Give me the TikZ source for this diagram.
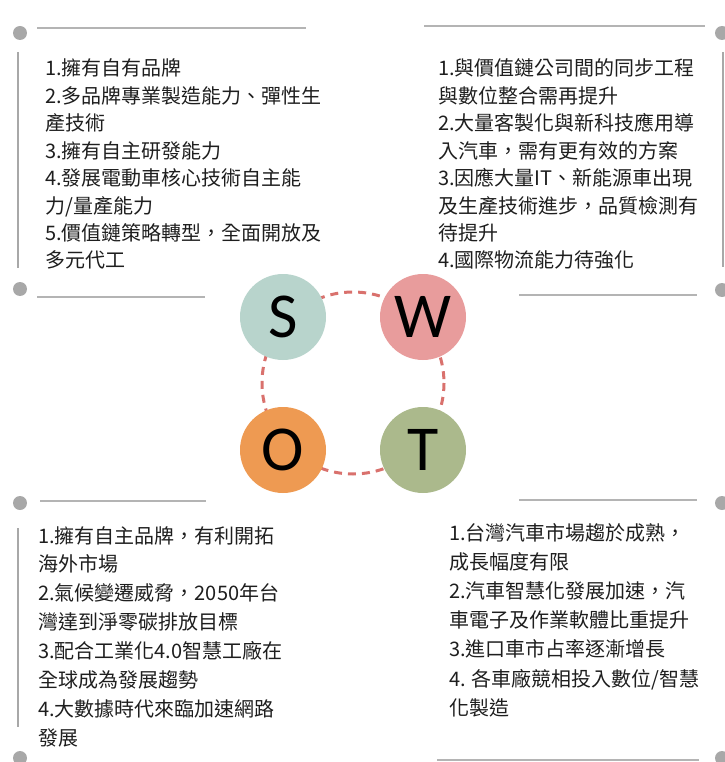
\documentclass[tikz,border=0pt]{standalone}
\usepackage{fontspec}
\newfontfamily\cjk{Noto Sans CJK TC}
\newfontfamily\lett{Carlito}
\definecolor{dotgray}{HTML}{A8A8A8}
\definecolor{linegray}{HTML}{B4B4B4}
\definecolor{sgreen}{HTML}{B8D4CC}
\definecolor{wpink}{HTML}{E89C9C}
\definecolor{oorange}{HTML}{EE9A52}
\definecolor{tolive}{HTML}{ABB98C}
\definecolor{dashred}{HTML}{D9716D}
\definecolor{txt}{HTML}{1E1E1E}
\begin{document}
\begin{tikzpicture}[x=1pt,y=-1pt,
  gdot/.style={circle,fill=dotgray,inner sep=0pt,minimum size=14pt},
  gline/.style={draw=linegray,line width=1.8pt},
  vline/.style={draw=dotgray,line width=1.8pt},
  letter/.style={circle,inner sep=0pt,minimum size=86pt,font=\lett\fontsize{64}{64}\selectfont,text=black},
  item/.style={anchor=base west,inner sep=0pt,font=\cjk\fontsize{20}{24}\selectfont,text=txt}]
\useasboundingbox (0,0) rectangle (724,762);
% decorations
\node[gdot] (d1) at (20,33) {};
\node[gdot] (d2) at (20,289) {};
\node[gdot] (d3) at (722,33) {};
\node[gdot] (d4) at (722,290) {};
\node[gdot] (d5) at (20,503) {};
\node[gdot] (d6) at (20,758) {};
\node[gdot] (d7) at (722,503) {};
\node[gdot] (d8) at (722,758) {};
\coordinate (l1a) at (37,28); \coordinate (l1b) at (306,28);
\coordinate (l2a) at (37,297); \coordinate (l2b) at (205,297);
\coordinate (l3a) at (424,26); \coordinate (l3b) at (705,26);
\coordinate (l4a) at (519,295); \coordinate (l4b) at (697,295);
\coordinate (l5a) at (40,501); \coordinate (l5b) at (206,501);
\coordinate (l6a) at (519,500); \coordinate (l6b) at (697,500);
\coordinate (l7a) at (437,760); \coordinate (l7b) at (699,760);
\coordinate (v1a) at (18,52); \coordinate (v1b) at (18,268);
\coordinate (v2a) at (723,52); \coordinate (v2b) at (723,267);
\coordinate (v3a) at (18,528); \coordinate (v3b) at (18,727);
\path[gline] (l1a) -- (l1b) (l2a) -- (l2b) (l3a) -- (l3b) (l4a) -- (l4b)
  (l5a) -- (l5b) (l6a) -- (l6b) (l7a) -- (l7b);
\path[vline] (v1a) -- (v1b) (v2a) -- (v2b) (v3a) -- (v3b);
% center
\coordinate (c) at (353,383);
\draw[dashred,line width=3pt,dash pattern=on 8pt off 6pt] (c) circle[radius=91];
\node[letter,fill=sgreen] (S) at (283,317) {S};
\node[letter,fill=wpink] (W) at (423,317) {W};
\node[letter,fill=oorange] (O) at (283,450) {O};
\node[letter,fill=tolive] (T) at (423,450) {T};
% texts
\foreach \t [count=\i] in {1.擁有自有品牌,2.多品牌專業製造能力、彈性生,產技術,3.擁有自主研發能力,4.發展電動車核心技術自主能,力/量產能力,5.價值鏈策略轉型，全面開放及,多元代工}
  \node[item] (s\i) at (45,{76+27.4*(\i-1)}) {\t};
\foreach \t [count=\i] in {1.與價值鏈公司間的同步工程,與數位整合需再提升,2.大量客製化與新科技應用導,入汽車，需有更有效的方案,3.因應大量IT、新能源車出現,及生產技術進步，品質檢測有,待提升,4.國際物流能力待強化}
  \node[item] (w\i) at (438,{76+27.4*(\i-1)}) {\t};
\foreach \t [count=\i] in {1.擁有自主品牌，有利開拓,海外市場,2.氣候變遷威脅，2050年台,灣達到淨零碳排放目標,3.配合工業化4.0智慧工廠在,全球成為發展趨勢,4.大數據時代來臨加速網路,發展}
  \node[item] (o\i) at (38,{543+28.9*(\i-1)}) {\t};
\foreach \t [count=\i] in {1.台灣汽車市場趨於成熟，,成長幅度有限,2.汽車智慧化發展加速，汽,車電子及作業軟體比重提升,3.進口車市占率逐漸增長,4. 各車廠競相投入數位/智慧,化製造}
  \node[item] (t\i) at (449,{540+29.2*(\i-1)}) {\t};
\end{tikzpicture}
\end{document}
